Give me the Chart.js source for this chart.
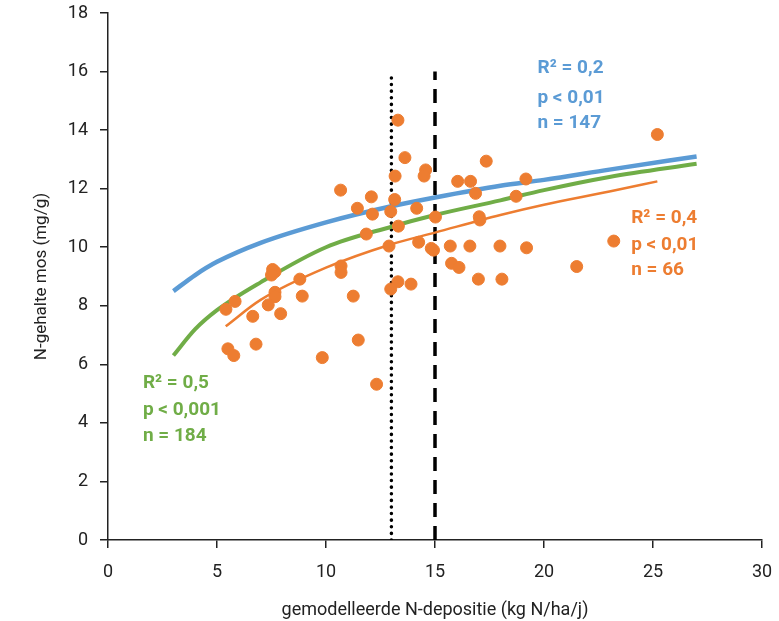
<!DOCTYPE html>
<html><head><meta charset="utf-8">
<script src="https://cdn.jsdelivr.net/npm/chart.js@4"></script>
<style>html,body{margin:0;padding:0;background:#fff}#w{width:779px;height:621px}</style>
</head><body><div id="w"><canvas id="c"></canvas></div>
<script>
// scatter data (x: N-depositie, y: N-gehalte)
const depositie = [13.3,13.62,14.57,14.5,13.17,10.67,12.08,13.15,11.44,12.13,12.97,14.16,15.02,13.32,11.85,12.89,14.25,14.83,14.93,7.55,7.66,7.5,10.69,10.69,8.8,7.66,7.66,8.91,11.25,5.83,5.41,7.35,6.64,7.92,13.3,12.97,13.9,5.5,5.77,6.79,11.48,9.83,12.32,25.2,17.35,16.04,16.63,19.17,16.86,18.72,17.03,17.06,15.7,16.6,17.98,19.2,23.2,15.76,16.1,21.5,16.99,18.07];
const gehalte   = [14.34,13.06,12.64,12.43,12.43,11.95,11.72,11.63,11.33,11.13,11.22,11.33,11.03,10.72,10.45,10.04,10.17,9.96,9.9,9.24,9.16,9.05,9.36,9.14,8.91,8.46,8.31,8.33,8.33,8.15,7.88,8.03,7.64,7.73,8.82,8.57,8.74,6.53,6.3,6.69,6.83,6.23,5.32,13.85,12.94,12.25,12.25,12.33,11.84,11.74,11.04,10.93,10.04,10.04,10.04,9.98,10.21,9.45,9.31,9.34,8.91,8.91];
// trend curves
const blueX = [3,4,5,7,10,13,15,18,20,23,27];
const blueY = [8.5,9.05,9.5,10.15,10.85,11.4,11.7,12.1,12.3,12.65,13.1];
const greenX = [3,4,5,7,10,13,15,18,20,23,27];
const greenY = [6.3,7.2,7.85,8.8,10.0,10.7,11.1,11.6,11.95,12.4,12.85];
const orangeX = [5.4,7,10,13,15,18,20,23,25.2];
const orangeY = [7.3,8.2,9.3,10.1,10.5,11.1,11.45,11.9,12.25];
// reference lines
const dottedX = 13, dashedX = 15, refTop = 16;
const xTicks = [0,5,10,15,20,25,30];
const yTicks = [0,2,4,6,8,10,12,14,16,18];
const blueText = ['R² = 0,2','p < 0,01','n = 147'];
const orangeText = ['R² = 0,4','p < 0,01','n = 66'];
const greenText = ['R² = 0,5','p < 0,001','n = 184'];

const FONT = "Roboto,sans-serif";
const BLUE='#5B9BD5', GREEN='#70AD47', ORANGE='#ED7D31';
const zip=(xs,ys)=>xs.map((x,i)=>({x,y:ys[i]}));

const textPlugin = {
  id:'txt',
  afterDatasetsDraw(chart){
    const {ctx, scales:{x,y}} = chart;
    const groups = [
      {t:blueText, c:BLUE, x:19.7, y:[16.1,15.1,14.25]},
      {t:orangeText, c:ORANGE, x:24.0, y:[11.0,10.07,9.2]},
      {t:greenText, c:GREEN, x:1.6, y:[5.36,4.44,3.55]}
    ];
    ctx.save();
    ctx.font = "bold 19px "+FONT;
    ctx.textBaseline='middle'; ctx.textAlign='left';
    groups.forEach(g=>{
      ctx.fillStyle=g.c;
      g.t.forEach((s,i)=>ctx.fillText(s, x.getPixelForValue(g.x), y.getPixelForValue(g.y[i])));
    });
    ctx.restore();
  }
};

new Chart(document.getElementById('c'), {
  type:'scatter',
  data:{datasets:[
    {data:zip(depositie,gehalte), backgroundColor:ORANGE, borderColor:ORANGE, pointRadius:6, pointHoverRadius:6, order:0},
    {type:'line', data:zip(orangeX,orangeY), borderColor:ORANGE, borderWidth:2.5, pointRadius:0, fill:false, cubicInterpolationMode:'monotone', order:1},
    {type:'line', data:zip(greenX,greenY), borderColor:GREEN, borderWidth:4, pointRadius:0, fill:false, cubicInterpolationMode:'monotone', order:2},
    {type:'line', data:zip(blueX,blueY), borderColor:BLUE, borderWidth:4.5, pointRadius:0, fill:false, cubicInterpolationMode:'monotone', order:3},
    {type:'line', data:[{x:dottedX,y:0},{x:dottedX,y:refTop}], borderColor:'#000', borderWidth:3.5, borderDash:[0.1,6.5], borderCapStyle:'round', pointRadius:0, order:4},
    {type:'line', data:[{x:dashedX,y:0},{x:dashedX,y:refTop}], borderColor:'#000', borderWidth:3.5, borderDash:[14,9], pointRadius:0, order:5}
  ]},
  options:{
    responsive:true, maintainAspectRatio:false, animation:false,
    layout:{padding:{top:13,right:17,left:0,bottom:0}, autoPadding:false},
    plugins:{legend:{display:false}, tooltip:{enabled:false}},
    scales:{
      x:{type:'linear', min:0, max:30,
        afterBuildTicks:s=>{s.ticks=xTicks.map(v=>({value:v}));},
        afterFit:s=>{s.height=81; s.paddingLeft=0; s.paddingRight=0;},
        border:{color:'#222', width:1.5},
        grid:{display:true, drawOnChartArea:false, drawTicks:true, tickLength:8, color:'#222', lineWidth:1.5},
        ticks:{color:'#222', font:{family:FONT,size:18}, padding:14},
        title:{display:true, text:'gemodelleerde N-depositie (kg N/ha/j)', color:'#222', font:{family:FONT,size:18}, padding:{top:0,bottom:0}}
      },
      y:{type:'linear', min:0, max:18,
        afterBuildTicks:s=>{s.ticks=yTicks.map(v=>({value:v}));},
        afterFit:s=>{s.width=108; s.paddingTop=0; s.paddingBottom=0;},
        border:{color:'#222', width:1.5},
        grid:{display:true, drawOnChartArea:false, drawTicks:true, tickLength:8, color:'#222', lineWidth:1.5},
        ticks:{color:'#222', font:{family:FONT,size:18}, padding:12},
        title:{display:true, text:'N-gehalte mos (mg/g)', color:'#222', font:{family:FONT,size:17}, padding:{top:32,bottom:0}}
      }
    }
  },
  plugins:[textPlugin]
});
</script></body></html>
